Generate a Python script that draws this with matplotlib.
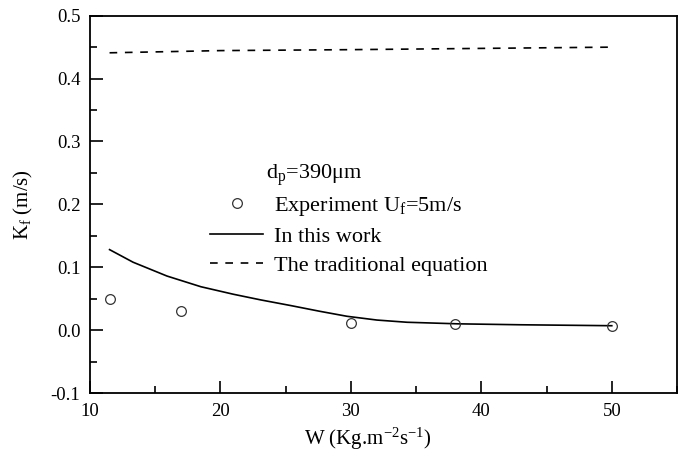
import matplotlib
matplotlib.use("Agg")
import matplotlib.pyplot as plt
from matplotlib.ticker import MultipleLocator

plt.rcParams['font.family'] = ['Liberation Serif', 'DejaVu Serif']
plt.rcParams['mathtext.fontset'] = 'custom'
plt.rcParams['mathtext.rm'] = 'Liberation Serif'
plt.rcParams['mathtext.it'] = 'Liberation Serif:italic'

# Experimental mass transfer coefficient
exp_w = [11.5, 17.0, 30.0, 38.0, 50.0]
exp_kf = [0.050, 0.030, 0.011, 0.009, 0.007]

# Model prediction (this work)
model_w = [11.5, 13.3, 15.9, 18.5, 21.0, 23.1, 25.4, 27.6, 29.7, 32.0, 34.3, 38.2, 43.0, 47.7, 50.0]
model_kf = [0.128, 0.108, 0.086, 0.069, 0.057, 0.048, 0.039, 0.030, 0.022, 0.016, 0.0125,
            0.010, 0.0085, 0.0075, 0.007]

# Traditional correlation
trad_w = [11.5, 20.0, 30.0, 40.0, 50.0]
trad_kf = [0.441, 0.4445, 0.446, 0.448, 0.450]

W, H = 686, 458
fig = plt.figure(figsize=(W / 100, H / 100), dpi=100)
ax = fig.add_axes([90 / W, 1 - 393 / H, 587 / W, 377.3 / H])

l_model, = ax.plot(model_w, model_kf, color='black', lw=1.2, label='In this work')
l_trad, = ax.plot(trad_w, trad_kf, color='black', lw=1.2, ls=(0, (4.6, 4.6)),
                  label='The traditional equation')
l_exp, = ax.plot(exp_w, exp_kf, ls='none', marker='o', ms=7, mfc='none', mec='#333333', mew=0.9,
                 label='Experiment U$_\\mathrm{f}$=5m/s')

ax.set_xlim(10, 55)
ax.set_ylim(-0.1, 0.5)
ax.xaxis.set_major_locator(MultipleLocator(10))
ax.xaxis.set_minor_locator(MultipleLocator(5))
ax.yaxis.set_major_locator(MultipleLocator(0.1))
ax.yaxis.set_minor_locator(MultipleLocator(0.05))
ax.yaxis.set_major_formatter(plt.FuncFormatter(lambda v, p: f"{v:.1f}"))
ax.tick_params(which='both', direction='in', top=False, right=False, labelsize=13.5, width=1.2)
ax.tick_params(axis='y', pad=7)
ax.tick_params(axis='x', pad=7)
ax.tick_params(which='major', length=9)
ax.tick_params(which='minor', length=5)
for s in ax.spines.values():
    s.set_linewidth(1.3)

ax.set_xlabel('W (Kg.m$^{\\mathrm{-2}}$s$^{\\mathrm{-1}}$)', fontsize=15)
ax.xaxis.set_label_coords((368 - 90) / 587, (393 - 426) / 377.3)
ax.set_ylabel('K$_\\mathrm{f}$ (m/s)', fontsize=15)
ax.yaxis.set_label_coords((23 - 90) / 587, 0.5)
ax.yaxis.label.set_va('center')

fig.text(266 / W, 1 - 175 / H, 'd$_\\mathrm{p}$=390μm', fontsize=16, ha='left', va='center')

leg = ax.legend([l_exp, l_model, l_trad],
                [l_exp.get_label(), l_model.get_label(), l_trad.get_label()],
                frameon=False, fontsize=16, loc='upper left',
                bbox_to_anchor=(210 / W, 1 - 195 / H), bbox_transform=fig.transFigure,
                handlelength=2.4, labelspacing=0.38, handletextpad=0.5, borderpad=0,
                borderaxespad=0)

fig.savefig('out.png', dpi=100)
